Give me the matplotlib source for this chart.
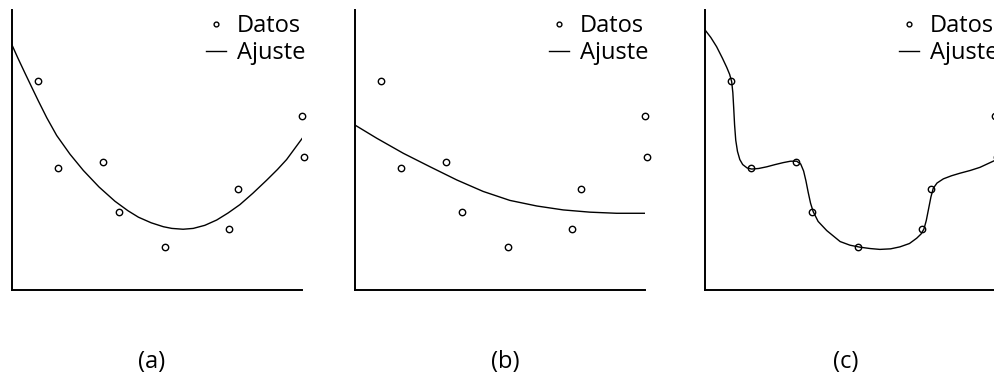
import numpy as np
import matplotlib
matplotlib.use("Agg")
import matplotlib.pyplot as plt

plt.rcParams['font.family'] = ['Open Sans', 'DejaVu Sans']

# datos medidos (los mismos en los tres paneles)
x_datos = [0.89, 1.60, 3.14, 3.69, 5.29, 7.48, 7.78, 10.01, 10.08]
y_datos = [7.46, 4.37, 4.58, 2.79, 1.54, 2.17, 3.62, 6.21, 4.75]

# (a) ajuste adecuado
x_aj_a = [0.0, 0.2, 0.45, 0.7, 0.91, 1.2, 1.54, 2.0, 2.46, 3.0, 3.55, 4.0, 4.36, 4.8,
          5.22, 5.51, 5.9, 6.25, 6.65, 7.06, 7.45, 7.86, 8.3, 8.78, 9.15, 9.47, 10.01]
y_aj_a = [8.75, 8.29, 7.74, 7.20, 6.75, 6.15, 5.52, 4.85, 4.27, 3.68, 3.17, 2.83, 2.60, 2.40,
          2.26, 2.20, 2.17, 2.20, 2.31, 2.50, 2.75, 3.05, 3.45, 3.92, 4.30, 4.66, 5.42]

# (b) subajuste
x_aj_b = [0.0, 0.75, 1.67, 2.59, 3.51, 4.42, 5.34, 6.27, 7.18, 8.10, 9.02, 10.02]
y_aj_b = [5.89, 5.42, 4.88, 4.40, 3.93, 3.52, 3.20, 3.00, 2.86, 2.78, 2.74, 2.74]

# (c) sobreajuste
x_aj_c = [0.0, 0.2, 0.40, 0.6, 0.75, 0.85, 0.92, 0.96, 0.99, 1.02, 1.06, 1.12, 1.20, 1.30,
          1.45, 1.61, 1.85, 2.13, 2.42, 2.70, 2.95, 3.16, 3.30, 3.40, 3.48, 3.56, 3.64,
          3.73, 3.90, 4.20, 4.66, 5.00, 5.34, 5.70, 6.03, 6.40, 6.72, 7.05, 7.30, 7.45,
          7.55, 7.63, 7.71, 7.79, 7.87, 8.00, 8.22, 8.50, 8.79, 9.15, 9.48, 9.98, 10.08]
y_aj_c = [9.29, 9.02, 8.69, 8.28, 7.95, 7.70, 7.44, 7.05, 6.50, 5.90, 5.35, 4.95, 4.66, 4.48,
          4.36, 4.32, 4.34, 4.40, 4.48, 4.55, 4.60, 4.60, 4.50, 4.25, 3.90, 3.48, 3.10,
          2.80, 2.45, 2.12, 1.73, 1.60, 1.53, 1.48, 1.45, 1.47, 1.54, 1.66, 1.85, 2.00,
          2.18, 2.48, 2.90, 3.32, 3.63, 3.82, 3.97, 4.08, 4.17, 4.27, 4.38, 4.62, 4.75]

etiquetas = ['(a)', '(b)', '(c)']
ajustes = [(x_aj_a, y_aj_a), (x_aj_b, y_aj_b), (x_aj_c, y_aj_c)]

W, H = 995, 378
fig = plt.figure(figsize=(W / 100, H / 100), dpi=100)

izquierdas = [12, 355, 705]
centros_txt = [152, 505, 846]

for izq, (xa, ya), etiq, cx in zip(izquierdas, ajustes, etiquetas, centros_txt):
    ax = fig.add_axes([izq / W, (H - 290) / H, 290 / W, 280 / H])
    ax.plot(x_datos, y_datos, 'o', ms=4.6, mfc='none', mec='black', mew=1.0,
            clip_on=False, label='Datos', zorder=3)
    ax.plot(xa, ya, '-', color='black', lw=1.0, label='Ajuste',
            solid_joinstyle='round')
    ax.set_xlim(0, 10)
    ax.set_ylim(0, 10)
    ax.set_xticks([])
    ax.set_yticks([])
    for lado in ['top', 'right']:
        ax.spines[lado].set_visible(False)
    for lado in ['left', 'bottom']:
        ax.spines[lado].set_linewidth(1.4)
    ax.legend(loc='upper right', bbox_to_anchor=(1.012, 0.984), frameon=False,
              fontsize=17, handlelength=0.85, handletextpad=0.45,
              labelspacing=0.1, borderpad=0, borderaxespad=0, markerscale=0.75)
    fig.text(cx / W, 1 - 362 / H, etiq, ha='center', va='center', fontsize=17)

fig.savefig('out.png', dpi=100)
